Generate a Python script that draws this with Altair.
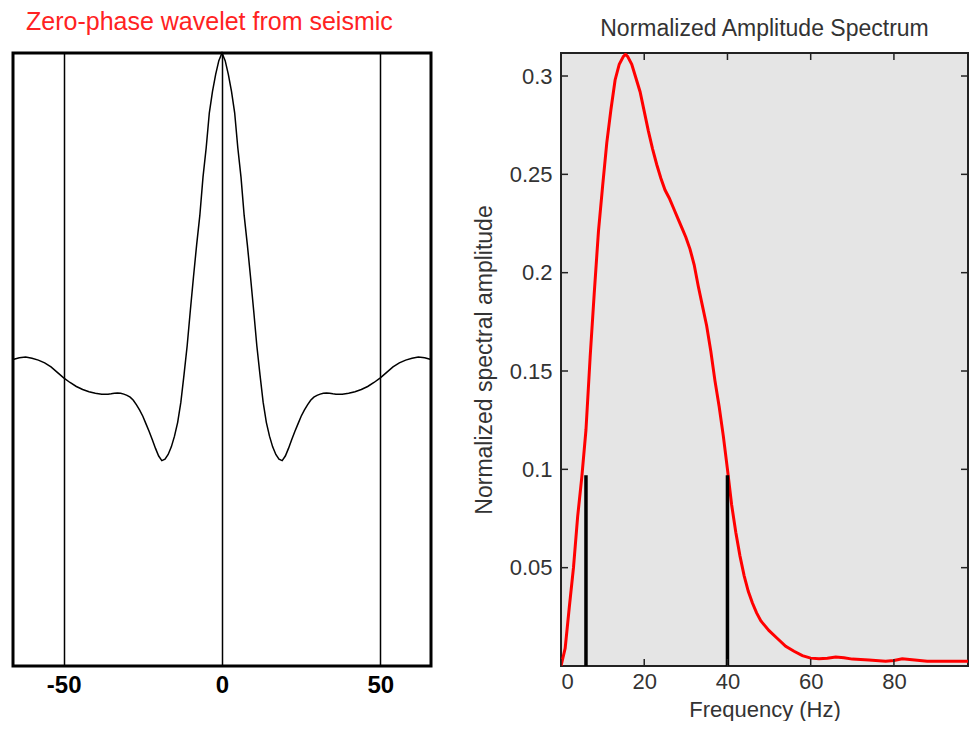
import altair as alt
import pandas as pd

FONT = "Liberation Sans"

# ---- left panel: zero-phase wavelet ----
wave_t = [-66, -64, -62, -60, -58, -56, -54, -52, -50, -48, -46, -44, -42, -40, -38, -36,
          -35, -34, -33, -32, -31, -30, -29, -28, -27, -26, -25, -24, -23, -22, -21, -20,
          -19, -18, -17, -16, -15, -14, -13, -12, -11, -10, -9, -8, -7, -6, -5, -4, -3, -2, -1,
          0,
          1, 2, 3, 4, 5, 6, 7, 8, 9, 10, 11, 12, 13, 14, 15, 16, 17, 18, 19,
          20, 21, 22, 23, 24, 25, 26, 27, 28, 29, 30, 31, 32, 33, 34, 35,
          36, 38, 40, 42, 44, 46, 48, 50, 52, 54, 56, 58, 60, 62, 64, 66]
wave_v = [0.0, 0.006, 0.008, 0.004, -0.002, -0.011, -0.024, -0.042, -0.06, -0.075, -0.088, -0.098, -0.105, -0.11, -0.113, -0.113,
          -0.112, -0.11, -0.109, -0.11, -0.113, -0.117, -0.123, -0.133, -0.148, -0.165, -0.185, -0.21, -0.235, -0.262, -0.29, -0.315,
          -0.33, -0.325, -0.31, -0.285, -0.25, -0.205, -0.14, -0.05, 0.045, 0.16, 0.27, 0.375, 0.47, 0.595, 0.69, 0.805, 0.875, 0.93, 0.975,
          1.0,
          0.975, 0.93, 0.875, 0.805, 0.69, 0.595, 0.47, 0.375, 0.27, 0.16, 0.045, -0.05, -0.14, -0.205, -0.25, -0.285, -0.31, -0.325, -0.33,
          -0.315, -0.29, -0.262, -0.235, -0.21, -0.185, -0.165, -0.148, -0.133, -0.123, -0.117, -0.113, -0.11, -0.109, -0.11, -0.112,
          -0.113, -0.113, -0.11, -0.105, -0.098, -0.088, -0.075, -0.06, -0.042, -0.024, -0.011, -0.002, 0.004, 0.008, 0.006, 0.0]
wave_ticks = [-50, 0, 50]

# ---- right panel: normalized amplitude spectrum ----
freq = [0, 1, 2, 3, 4, 5, 6, 7, 8, 9, 10, 11, 12, 13, 14, 15, 15.5, 16, 17, 18, 19,
        20, 21, 22, 23, 24, 25, 26, 27, 28, 29, 30, 31, 32, 33, 34, 35, 36, 37, 38, 39,
        40, 41, 42, 43, 44, 45, 46, 47, 48, 50, 52, 54, 56, 58, 60, 62, 64, 66, 68, 70,
        74, 78, 80, 82, 85, 88, 100]
amp = [0.0, 0.009, 0.03, 0.05, 0.076, 0.096, 0.12, 0.157, 0.19, 0.221, 0.244, 0.266, 0.283, 0.298, 0.306, 0.31, 0.311, 0.31, 0.306, 0.299, 0.292,
       0.282, 0.272, 0.263, 0.255, 0.248, 0.242, 0.238, 0.233, 0.228, 0.223, 0.218, 0.212, 0.204, 0.193, 0.183, 0.173, 0.16, 0.145, 0.132, 0.117,
       0.1, 0.082, 0.068, 0.056, 0.046, 0.038, 0.032, 0.027, 0.023, 0.018, 0.014, 0.010, 0.0075, 0.0053, 0.004, 0.0037, 0.004, 0.0046, 0.0042, 0.0035,
       0.003, 0.0024, 0.0028, 0.0037, 0.003, 0.0024, 0.0024]
bar_freq = [6, 40]
bar_amp = [0.097, 0.097]
bar_base = [0, 0]
spec_xticks = [0, 20, 40, 60, 80]
spec_yticks = [0.05, 0.1, 0.15, 0.2, 0.25, 0.3]

assert len(wave_t) == len(wave_v)
assert len(freq) == len(amp)

LW, LH = 418, 613
RW, RH = 407, 613

wave_df = pd.DataFrame({"t": wave_t, "v": wave_v})
xl = alt.Scale(domain=[-66, 66], nice=False, zero=False)
yl = alt.Scale(domain=[-1, 1], nice=False)

left = alt.Chart(wave_df).mark_line(color="black", strokeWidth=1.5).encode(
    x=alt.X("t:Q", scale=xl, axis=alt.Axis(
        values=wave_ticks, grid=True, gridColor="black", gridWidth=1.5, gridOpacity=1,
        ticks=False, tickSize=0, domain=False, labelFont=FONT, labelFontSize=24,
        labelFontWeight="bold", labelColor="black", labelPadding=7, title=None,
        labelExpr="'' + datum.value")),
    y=alt.Y("v:Q", scale=yl, axis=None),
).properties(
    width=LW, height=LH,
    title=alt.TitleParams("Zero-phase wavelet from seismic", color="#f22", font=FONT,
                          fontSize=25, fontWeight="normal", anchor="start", dx=16, offset=15),
    view=alt.ViewBackground(fill="white", stroke="black", strokeWidth=3),
)

spec_df = pd.DataFrame({"f": freq, "a": amp})
bar_df = pd.DataFrame({"f": bar_freq, "a": bar_amp, "b": bar_base})
xt_df = pd.DataFrame({"f": spec_xticks})
yt_df = pd.DataFrame({"a": spec_yticks})
xr = alt.Scale(domain=[0, 97.8], nice=False)
yr = alt.Scale(domain=[0, 0.3117], nice=False)

x_axis = alt.Axis(
    values=spec_xticks, ticks=False, tickSize=0, domain=False, grid=False,
    labelFont=FONT, labelFontSize=22, labelColor="#333", labelPadding=5,
    title="Frequency (Hz)", titleFont=FONT, titleFontSize=22, titleFontWeight="normal",
    titleColor="#333", titlePadding=7)
y_axis = alt.Axis(
    values=spec_yticks, ticks=False, tickSize=0, domain=False, grid=False,
    labelFont=FONT, labelFontSize=22, labelColor="#333", labelPadding=9,
    labelExpr="'' + datum.value",
    title="Normalized spectral amplitude", titleFont=FONT, titleFontSize=23,
    titleFontWeight="normal", titleColor="#333", titlePadding=13)

X = alt.X("f:Q", scale=xr, axis=x_axis, title="Frequency (Hz)")
Y = alt.Y("a:Q", scale=yr, axis=y_axis, title="Normalized spectral amplitude")

line = alt.Chart(spec_df).mark_line(color="#ff0000", strokeWidth=3, clip=True).encode(x=X, y=Y)

bars = alt.Chart(bar_df).mark_rule(color="black", strokeWidth=3.5).encode(
    x=X, y=Y, y2="b:Q",
)

tick_color = "#222"
xt_bottom = alt.Chart(xt_df).mark_rule(color=tick_color, strokeWidth=1.5).encode(
    x=X, y=alt.value(RH), y2=alt.value(RH - 7))
xt_top = alt.Chart(xt_df).mark_rule(color=tick_color, strokeWidth=1.5).encode(
    x=X, y=alt.value(0), y2=alt.value(7))
yt_left = alt.Chart(yt_df).mark_rule(color=tick_color, strokeWidth=1.5).encode(
    y=Y, x=alt.value(0), x2=alt.value(7))
yt_right = alt.Chart(yt_df).mark_rule(color=tick_color, strokeWidth=1.5).encode(
    y=Y, x=alt.value(RW), x2=alt.value(RW - 7))

right = alt.layer(line, bars, xt_bottom, xt_top, yt_left, yt_right).properties(
    width=RW, height=RH,
    title=alt.TitleParams("Normalized Amplitude Spectrum", color="#333", font=FONT,
                          fontSize=23, fontWeight="normal", anchor="middle", offset=11),
    view=alt.ViewBackground(fill="#e5e5e5", stroke="#222", strokeWidth=2),
)

chart = alt.hconcat(left, right, spacing=36).properties(
    padding={"left": 0, "top": 0, "right": 0, "bottom": 0},
    background="white",
).configure_view(strokeWidth=2)

chart.save("out.html", embed_options={"renderer": "svg", "actions": False})
